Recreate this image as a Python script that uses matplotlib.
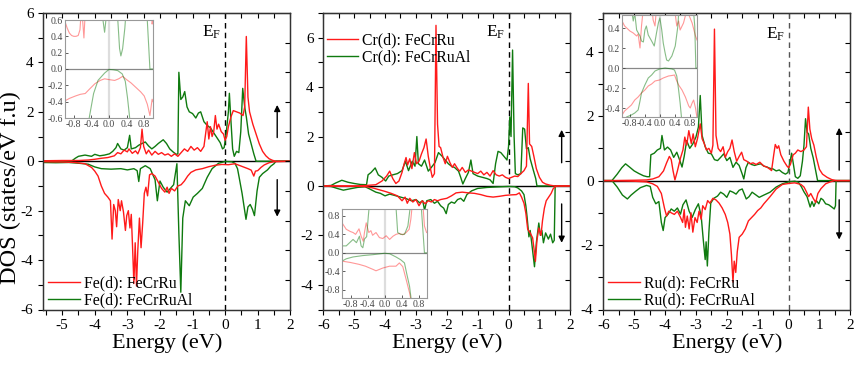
import numpy as np
import matplotlib
matplotlib.use("Agg")
import matplotlib.pyplot as plt

plt.rcParams['font.family'] = ['Liberation Serif', 'DejaVu Serif']
plt.rcParams['mathtext.fontset'] = 'custom'
plt.rcParams['mathtext.rm'] = 'Liberation Serif'
plt.rcParams['mathtext.it'] = 'Liberation Serif'
plt.rcParams['axes.unicode_minus'] = False

RED = '#ff1a1a'
GREEN = '#0f7a0f'

# ---------------- Panel 1 : Fe(d) ----------------
fe_ru_up_x = [-5.6, -5.0, -4.5, -4.2, -4.0, -3.8, -3.6, -3.4, -3.3, -3.2, -3.1, -3.0, -2.95, -2.85, -2.75, -2.68,
              -2.6, -2.55, -2.5, -2.42, -2.35, -2.25, -2.15, -2.05, -1.95, -1.85, -1.75, -1.65, -1.55, -1.45,
              -1.35, -1.25, -1.15, -1.05, -0.95, -0.85, -0.75, -0.65, -0.55, -0.5, -0.45, -0.4, -0.35, -0.3,
              -0.25, -0.2, -0.12, -0.05, 0.0, 0.05, 0.1, 0.18, 0.25, 0.35, 0.45, 0.55, 0.6, 0.65, 0.7, 0.75,
              0.85, 0.95, 1.05, 1.15, 1.25, 1.35, 1.45, 1.55, 2.0]
fe_ru_up_y = [0.02, 0.03, 0.03, 0.05, 0.08, 0.12, 0.15, 0.22, 0.35, 0.3, 0.45, 0.38, 0.5, 0.32, 0.42, 0.3,
              0.55, 1.3, 0.6, 0.3, 0.45, 0.25, 0.4, 0.28, 0.35, 0.25, 0.3, 0.2, 0.3, 0.2,
              0.35, 0.5, 0.4, 0.6, 0.45, 0.55, 0.4, 0.6, 1.6, 0.9, 1.4, 1.0, 1.2, 1.85,
              1.3, 1.5, 1.2, 1.1, 0.85, 1.0, 1.4, 1.8, 2.05, 2.0, 1.95, 1.85, 2.2, 5.05, 2.6, 2.0,
              1.5, 1.1, 0.7, 0.4, 0.22, 0.1, 0.04, 0.0, 0.0]
fe_ru_dn_x = [-5.6, -5.0, -4.6, -4.3, -4.1, -4.0, -3.9, -3.8, -3.7, -3.6, -3.52, -3.47, -3.42, -3.37, -3.33,
              -3.28, -3.22, -3.18, -3.12, -3.06, -3.02, -2.97, -2.92, -2.88, -2.84, -2.8, -2.76, -2.72, -2.68,
              -2.63, -2.58, -2.53, -2.48, -2.43, -2.38, -2.32, -2.25, -2.15, -2.05, -1.95, -1.85, -1.78, -1.72,
              -1.65, -1.55, -1.45, -1.35, -1.25, -1.15, -1.05, -0.9, -0.7, -0.5, -0.3, -0.1, 0.1, 0.3, 0.5,
              0.7, 0.8, 0.88, 0.93, 1.0, 1.1, 1.2, 1.35, 1.5, 2.0]
fe_ru_dn_y = [-0.02, -0.03, -0.05, -0.1, -0.25, -0.4, -0.6, -1.0, -1.3, -1.45, -1.6, -3.15, -1.75, -2.0, -2.65,
              -1.55, -2.0, -1.6, -2.05, -2.8, -2.2, -2.0, -2.7, -2.15, -3.5, -4.95, -3.3, -5.05, -3.6,
              -2.3, -3.5, -2.5, -1.3, -1.05, -1.4, -0.55, -0.5, -0.6, -0.85, -1.1, -1.25, -1.05, -1.3,
              -1.1, -1.2, -1.0, -0.95, -0.8, -0.6, -0.45, -0.35, -0.3, -0.22, -0.16, -0.13, -0.14, -0.1, -0.2,
              -0.3, -0.36, -0.6, -0.4, -0.38, -0.25, -0.15, -0.06, -0.02, 0.0]
fe_al_up_x = [-5.6, -5.0, -4.7, -4.6, -4.5, -4.3, -4.1, -4.0, -3.85, -3.7, -3.55, -3.45, -3.35, -3.3, -3.2,
              -3.1, -3.0, -2.93, -2.88, -2.75, -2.65, -2.55, -2.45, -2.35, -2.25, -2.15, -2.05, -1.9, -1.8,
              -1.7, -1.6, -1.5, -1.45, -1.42, -1.36, -1.3, -1.24, -1.17, -1.1, -1.0, -0.9, -0.82, -0.75,
              -0.65, -0.55, -0.45, -0.35, -0.25, -0.15, -0.08, -0.03, 0.03, 0.1, 0.13, 0.18, 0.23, 0.28,
              0.35, 0.42, 0.48, 0.54, 0.6, 0.65, 0.72, 0.8, 0.88, 0.95, 2.0]
fe_al_up_y = [0.0, 0.0, 0.02, 0.12, 0.2, 0.25, 0.2, 0.28, 0.22, 0.25, 0.3, 0.4, 0.55, 0.72, 0.5,
              0.45, 0.55, 1.05, 0.5, 0.55, 0.65, 0.72, 0.78, 0.62, 0.5, 0.6, 0.72, 0.87, 0.72,
              0.5, 0.38, 0.28, 0.3, 3.6, 2.5, 2.6, 2.82, 2.2, 2.0, 1.93, 1.75, 1.95, 2.0,
              1.6, 1.45, 1.35, 1.15, 0.95, 0.75, 0.5, 0.55, 1.1, 2.0, 2.75, 1.6, 0.5, 0.2,
              0.4, 0.35, 1.2, 2.95, 2.2, 1.8, 1.1, 0.7, 0.3, 0.0, 0.0]
fe_al_dn_x = [-5.6, -5.2, -4.8, -4.5, -4.2, -4.0, -3.8, -3.5, -3.2, -3.0, -2.8, -2.7, -2.65, -2.6, -2.45,
              -2.3, -2.15, -2.08, -2.0, -1.9, -1.78, -1.68, -1.58, -1.48, -1.42, -1.36, -1.3, -1.22, -1.1,
              -0.98, -0.85, -0.7, -0.55, -0.4, -0.2, 0.0, 0.2, 0.3, 0.38, 0.43, 0.52, 0.6, 0.64, 0.7, 0.77,
              0.84, 0.9, 0.98, 1.05, 1.15, 1.3, 1.4, 1.5, 1.56, 2.0]
fe_al_dn_y = [-0.05, -0.06, -0.05, -0.08, -0.12, -0.23, -0.3, -0.32, -0.3, -0.35, -0.3, -0.38, -0.82, -0.3, -0.18,
              -0.3, -0.75, -1.6, -0.8, -1.05, -1.25, -1.1, -0.95, -0.1, -2.9, -5.3, -2.3, -1.6, -1.8,
              -1.45, -1.3, -1.1, -0.65, -0.3, -0.08, -0.01, -0.02, -0.08, -0.3, -0.65, -1.3, -2.0, -2.35, -1.85, -1.75,
              -1.95, -2.2, -1.2, -0.65, -0.5, -0.35, -0.2, -0.1, 0.0, 0.0]

# ---------------- Panel 2 : Cr(d) ----------------
cr_ru_up_x = [-6.0, -5.0, -4.6, -4.3, -4.1, -3.95, -3.85, -3.75, -3.65, -3.55, -3.45, -3.38, -3.32, -3.27, -3.2,
              -3.13, -3.05, -2.98, -2.9, -2.82, -2.74, -2.67, -2.6, -2.53, -2.47, -2.4, -2.35, -2.3, -2.25,
              -2.2, -2.12, -2.05, -1.98, -1.9, -1.82, -1.75, -1.65, -1.58, -1.5, -1.4, -1.3, -1.2, -1.1, -1.0,
              -0.9, -0.8, -0.7, -0.6, -0.5, -0.4, -0.3, -0.2, -0.1, 0.0, 0.1, 0.2, 0.3, 0.4, 0.5, 0.58, 0.64,
              0.68, 0.75, 0.82, 0.9, 1.0, 1.1, 1.2, 1.35, 1.5, 2.0]
cr_ru_up_y = [0.0, 0.0, 0.02, 0.05, 0.2, 0.4, 0.6, 0.3, 0.1, 0.2, 0.55, 0.9, 1.15, 0.85, 1.1,
              0.7, 1.35, 0.9, 1.0, 1.3, 1.55, 1.9, 1.2, 0.7, 0.35, 0.5, 6.5, 2.5, 1.6,
              1.55, 1.15, 0.9, 1.2, 0.95, 0.75, 0.9, 0.7, 0.6, 0.75, 0.55, 0.65, 0.6, 0.55, 0.5,
              0.6, 0.45, 0.55, 0.4, 0.62, 0.45, 0.4, 0.45, 0.35, 0.3, 0.35, 0.4, 0.38, 0.5, 0.62, 0.8, 4.15,
              1.7, 1.6, 1.2, 0.7, 0.35, 0.15, 0.08, 0.03, 0.0, 0.0]
cr_ru_dn_x = [-6.0, -5.0, -4.6, -4.4, -4.2, -4.0, -3.8, -3.6, -3.45, -3.35, -3.28, -3.2, -3.1, -3.0, -2.9,
              -2.8, -2.7, -2.6, -2.5, -2.4, -2.3, -2.2, -2.0, -1.85, -1.7, -1.5, -1.3, -1.1, -0.9, -0.7,
              -0.5, -0.3, -0.1, 0.1, 0.25, 0.35, 0.42, 0.5, 0.56, 0.62, 0.7, 0.78, 0.83, 0.87, 0.92, 0.98,
              1.05, 1.1, 1.16, 1.22, 1.3, 1.38, 1.45, 1.55, 2.0]
cr_ru_dn_y = [0.0, -0.01, -0.03, -0.08, -0.15, -0.22, -0.3, -0.4, -0.6, -0.45, -0.7, -0.5, -0.65, -0.55, -0.8,
              -0.6, -0.72, -0.6, -0.65, -0.55, -0.6, -0.55, -0.5, -0.4, -0.28, -0.25, -0.28, -0.3, -0.35, -0.42,
              -0.45, -0.42, -0.38, -0.36, -0.35, -0.28, -0.45, -0.7, -1.1, -1.75, -1.9, -2.1, -2.6, -3.05, -2.2, -1.7,
              -2.0, -1.4, -0.9, -0.6, -0.45, -0.3, -0.1, 0.0, 0.0]
cr_al_up_x = [-6.0, -5.75, -5.6, -5.4, -5.2, -5.0, -4.8, -4.6, -4.55, -4.45, -4.32, -4.22, -4.1, -3.98, -3.88,
              -3.75, -3.6, -3.45, -3.34, -3.24, -3.12, -3.03, -2.97, -2.92, -2.82, -2.72, -2.6, -2.5, -2.38,
              -2.27, -2.15, -2.05, -1.95, -1.85, -1.75, -1.62, -1.55, -1.48, -1.4, -1.3, -1.22, -1.15, -1.0,
              -0.85, -0.7, -0.6, -0.5, -0.42, -0.34, -0.25, -0.15, -0.05, 0.0, 0.04, 0.08, 0.13, 0.18, 0.22,
              0.3, 0.4, 0.46, 0.52, 0.58, 0.64, 0.7, 0.8, 0.88, 0.92, 2.0]
cr_al_up_y = [0.0, 0.02, 0.12, 0.23, 0.15, 0.1, 0.06, 0.05, 0.45, 0.55, 0.73, 0.45, 0.35, 0.2, 0.4,
              0.45, 0.5, 0.62, 1.0, 0.62, 1.0, 0.8, 2.0, 0.9, 0.8, 1.05, 0.6, 0.75, 0.95,
              1.35, 1.2, 1.05, 0.9, 0.8, 0.75, 0.6, 0.35, 0.08, 0.3, 0.55, 1.05, 0.5, 0.4,
              0.35, 0.3, 0.25, 0.1, 0.9, 1.4, 1.35, 1.2, 1.05, 1.6, 2.8, 2.0, 5.5, 2.0, 0.5,
              0.45, 0.5, 2.35, 2.3, 1.5, 1.55, 1.1, 0.65, 0.3, 0.0, 0.0]
cr_al_dn_x = [-6.0, -5.75, -5.55, -5.35, -5.15, -4.9, -4.65, -4.5, -4.3, -4.15, -4.0, -3.85, -3.7, -3.5, -3.3,
              -3.15, -3.0, -2.88, -2.78, -2.72, -2.65, -2.52, -2.4, -2.3, -2.2, -2.1, -2.02, -1.95, -1.85,
              -1.75, -1.65, -1.55, -1.45, -1.35, -1.2, -1.0, -0.7, -0.4, 0.0, 0.2, 0.3, 0.42, 0.5, 0.56, 0.6,
              0.66, 0.7, 0.75, 0.84, 0.9, 0.98, 1.03, 1.08, 1.13, 1.2, 1.29, 1.36, 1.43, 1.48, 1.51, 2.0]
cr_al_dn_y = [0.0, -0.02, -0.1, -0.17, -0.12, -0.06, -0.03, -0.12, -0.25, -0.3, -0.4, -0.33, -0.38, -0.45, -0.52,
              -0.6, -0.55, -0.68, -0.6, -0.98, -0.6, -0.55, -0.7, -0.62, -0.8, -0.9, -1.12, -0.75, -0.65,
              -0.7, -0.55, -0.5, -0.62, -0.35, -0.2, -0.1, -0.06, -0.04, -0.02, -0.03, -0.08, -0.2, -0.35, -0.8, -1.25,
              -2.06, -1.8, -2.3, -3.27, -2.3, -1.5, -2.0, -1.8, -2.3, -1.9, -2.15, -1.95, -2.3, -2.2, 0.0, 0.0]

# ---------------- Panel 3 : Ru(d) ----------------
ru_ru_up_x = [-6.0, -5.8, -5.0, -4.6, -4.4, -4.2, -4.05, -3.95, -3.86, -3.8, -3.74, -3.68, -3.6, -3.5, -3.42,
              -3.36, -3.3, -3.23, -3.15, -3.09, -3.02, -2.95, -2.86, -2.8, -2.73, -2.66, -2.58, -2.5, -2.45,
              -2.4, -2.35, -2.28, -2.2, -2.12, -2.05, -1.97, -1.9, -1.83, -1.76, -1.68, -1.6, -1.52, -1.45,
              -1.35, -1.25, -1.15, -1.05, -0.93, -0.8, -0.7, -0.6, -0.55, -0.48, -0.43, -0.37, -0.32, -0.25,
              -0.15, -0.05, 0.0, 0.06, 0.15, 0.22, 0.3, 0.4, 0.5, 0.58, 0.64, 0.69, 0.75, 0.82, 0.9, 1.0,
              1.1, 1.25, 1.4, 1.55, 2.0]
ru_ru_up_y = [0.0, 0.0, 0.01, 0.02, 0.05, 0.12, 0.3, 0.55, 0.75, 0.65, 0.3, 0.02, 0.3, 0.7, 0.95,
              1.35, 1.1, 1.55, 1.15, 1.45, 1.05, 1.3, 1.76, 1.3, 1.15, 0.95, 1.0, 0.85, 1.1,
              4.7, 1.4, 1.0, 0.9, 1.05, 0.72, 0.9, 1.0, 1.26, 0.9, 0.6, 0.75, 0.88, 0.65,
              0.6, 0.52, 0.55, 0.5, 0.57, 0.45, 0.42, 0.35, 0.31, 0.8, 1.12, 1.0, 1.08, 0.8,
              0.6, 0.45, 0.4, 0.5, 0.8, 0.85, 0.95, 0.9, 0.95, 1.05, 2.28, 1.6, 1.3, 1.1, 0.72, 0.35,
              0.2, 0.1, 0.03, 0.0, 0.0]
ru_ru_dn_x = [-6.0, -5.8, -5.0, -4.6, -4.4, -4.25, -4.12, -4.02, -3.95, -3.88, -3.8, -3.7, -3.6, -3.5, -3.43,
              -3.38, -3.34, -3.28, -3.22, -3.16, -3.1, -3.03, -2.96, -2.9, -2.83, -2.78, -2.7, -2.62, -2.55,
              -2.45, -2.35, -2.25, -2.15, -2.05, -1.97, -1.9, -1.85, -1.8, -1.76, -1.71, -1.66, -1.6, -1.5,
              -1.4, -1.3, -1.2, -1.1, -1.0, -0.9, -0.8, -0.6, -0.4, -0.2, 0.0, 0.2, 0.4, 0.5, 0.58, 0.65,
              0.72, 0.8, 0.88, 0.95, 1.05, 1.2, 1.35, 1.5, 2.0]
ru_ru_dn_y = [0.0, 0.0, -0.02, -0.04, -0.1, -0.18, -0.4, -0.85, -1.1, -0.95, -1.0, -1.05, -0.95, -1.14, -1.3,
              -0.9, -1.45, -1.1, -1.5, -1.0, -1.6, -1.15, -1.3, -0.95, -1.2, -0.78, -0.9, -0.62, -0.7,
              -0.55, -0.6, -0.7, -0.85, -1.05, -1.3, -1.66, -2.3, -3.15, -2.5, -2.85, -2.2, -1.76, -1.66,
              -1.5, -1.25, -1.15, -1.05, -0.93, -0.85, -0.72, -0.5, -0.26, -0.12, -0.09, -0.07, -0.12, -0.2, -0.35, -0.5,
              -0.4, -0.55, -0.68, -0.4, -0.25, -0.1, -0.04, 0.0, 0.0]
ru_al_up_x = [-6.0, -5.72, -5.55, -5.4, -5.28, -5.15, -5.0, -4.85, -4.7, -4.58, -4.5, -4.46, -4.35, -4.25, -4.15,
              -4.1, -4.02, -3.92, -3.82, -3.72, -3.62, -3.52, -3.45, -3.38, -3.3, -3.2, -3.1, -3.0, -2.92,
              -2.86, -2.8, -2.7, -2.6, -2.5, -2.4, -2.3, -2.2, -2.1, -2.0, -1.9, -1.8, -1.7, -1.6, -1.5,
              -1.45, -1.38, -1.3, -1.2, -1.1, -1.0, -0.9, -0.8, -0.7, -0.6, -0.5, -0.4, -0.3, -0.2, -0.1,
              -0.02, 0.05, 0.1, 0.15, 0.22, 0.3, 0.38, 0.45, 0.5, 0.55, 0.6, 0.65, 0.72, 0.8, 0.88, 0.94, 2.0]
ru_al_up_y = [0.0, 0.0, 0.2, 0.4, 0.52, 0.42, 0.3, 0.22, 0.15, 0.12, 0.12, 0.8, 0.85, 0.95, 1.0,
              1.4, 0.95, 1.04, 0.95, 0.72, 0.88, 0.62, 0.42, 0.75, 1.24, 1.0, 1.14, 1.35, 1.66,
              2.64, 1.4, 1.05, 0.85, 0.83, 0.65, 0.62, 0.72, 0.83, 0.62, 0.72, 0.41, 0.57, 0.47, 0.2,
              0.05, 0.4, 0.57, 0.5, 0.47, 0.5, 0.52, 0.45, 0.42, 0.38, 0.36, 0.3, 0.33, 0.25, 0.2,
              0.25, 0.6, 0.85, 0.55, 0.12, 0.07, 0.15, 0.6, 1.1, 1.92, 1.5, 1.45, 1.0, 0.7, 0.3, 0.0, 0.0]
ru_al_dn_x = [-6.0, -5.72, -5.55, -5.38, -5.22, -5.1, -4.95, -4.8, -4.6, -4.48, -4.4, -4.3, -4.2, -4.12, -4.06,
              -4.0, -3.9, -3.8, -3.7, -3.6, -3.5, -3.42, -3.32, -3.22, -3.12, -3.02, -2.92, -2.83, -2.76,
              -2.7, -2.67, -2.63, -2.58, -2.52, -2.42, -2.3, -2.2, -2.1, -2.0, -1.9, -1.8, -1.7, -1.6, -1.5,
              -1.42, -1.37, -1.28, -1.18, -1.05, -0.95, -0.8, -0.6, -0.4, -0.2, 0.0, 0.2, 0.32, 0.42, 0.5,
              0.6, 0.7, 0.76, 0.82, 0.9, 0.98, 1.05, 1.12, 1.2, 1.3, 1.4, 1.48, 1.52, 1.54, 2.0]
ru_al_dn_y = [0.0, 0.0, -0.2, -0.45, -0.57, -0.45, -0.33, -0.22, -0.15, -0.18, -0.52, -0.72, -0.65, -1.3, -1.55,
              -1.15, -1.04, -0.88, -0.95, -0.85, -1.04, -0.75, -0.6, -0.95, -1.14, -0.9, -0.72, -1.1, -1.86,
              -2.45, -1.9, -2.65, -1.6, -0.7, -0.55, -0.48, -0.36, -0.42, -0.52, -0.32, -0.36, -0.42, -0.3, -0.26,
              -0.45, -0.57, -0.5, -0.36, -0.45, -0.52, -0.45, -0.36, -0.2, -0.1, -0.04, -0.02, -0.05, -0.2, -0.35,
              -0.5, -0.82, -0.65, -0.8, -0.62, -0.72, -0.55, -0.6, -0.72, -0.75, -0.82, -0.88, -0.78, 0.0, 0.0]

# ---------------- Insets (zoom near E_F) ----------------
in1_ru_up_x = [-1.0, -0.95, -0.9, -0.85, -0.8, -0.75, -0.7, -0.66, -0.62, -0.6, -0.57, -0.54, -0.5, -0.4, 0.9, 0.95, 0.98, 1.0]
in1_ru_up_y = [0.58, 0.5, 0.44, 0.41, 0.4, 0.4, 0.41, 0.48, 0.8, 0.6, 0.38, 0.7, 0.9, 1.0, 1.0, 0.9, 0.55, 0.6]
in1_al_up_x = [-0.3, -0.15, -0.1, -0.06, 0.0, 0.15, 0.2, 0.24, 0.27, 0.31, 0.36, 0.4, 0.8, 0.87, 0.9, 0.93, 1.0]
in1_al_up_y = [1.0, 0.65, 0.45, 0.65, 1.0, 1.0, 0.6, 0.25, 0.16, 0.25, 0.5, 0.8, 0.9, 0.6, 0.3, 0.0, 0.0]
in1_ru_dn_x = [-1.0, -0.9, -0.76, -0.65, -0.54, -0.45, -0.32, -0.2, -0.1, 0.0, 0.13, 0.22, 0.31, 0.4, 0.5, 0.6, 0.72, 0.8, 0.87, 0.93, 0.98, 1.0]
in1_ru_dn_y = [-0.39, -0.36, -0.33, -0.31, -0.3, -0.25, -0.18, -0.14, -0.12, -0.13, -0.14, -0.12, -0.09, -0.13, -0.17, -0.22, -0.28, -0.33, -0.43, -0.57, -0.37, -0.4]
in1_al_dn_x = [-0.5, -0.45, -0.35, -0.25, -0.1, 0.0, 0.1, 0.2, 0.3, 0.37, 0.42, 0.47, 0.5]
in1_al_dn_y = [-0.75, -0.6, -0.3, -0.14, -0.05, -0.005, -0.01, -0.02, -0.06, -0.15, -0.35, -0.6, -0.8]

in2_ru_up_x = [-1.0, -0.9, -0.8, -0.74, -0.68, -0.6, -0.55, -0.5, -0.47, -0.43, -0.37, -0.32, -0.28, -0.2, -0.12,
               -0.04, 0.04, 0.12, 0.2, 0.27, 0.35, 0.43, 0.51, 0.58, 0.62, 0.66, 0.9, 0.94, 0.99]
in2_ru_up_y = [0.65, 0.51, 0.46, 0.44, 0.4, 0.52, 0.36, 0.25, 0.45, 0.65, 0.44, 0.48, 0.38, 0.44, 0.33,
               0.31, 0.37, 0.29, 0.36, 0.4, 0.42, 0.39, 0.44, 0.51, 0.73, 1.1, 1.1, 0.58, 0.44]
in2_al_up_x = [-1.0, -0.9, -0.82, -0.74, -0.66, -0.59, -0.55, -0.51, -0.47, -0.42, -0.38, -0.35, -0.3, 0.2, 0.27,
               0.31, 0.38, 0.47, 0.55, 0.62, 0.7, 0.85, 0.88, 0.94, 1.0]
in2_al_up_y = [0.15, 0.15, 0.22, 0.29, 0.22, 0.36, 0.15, 0.11, 0.3, 0.35, 0.8, 1.1, 1.2, 1.2, 1.0,
               0.44, 0.4, 0.4, 0.58, 1.1, 1.2, 1.2, 0.8, 0.0, 0.0]
in2_ru_dn_x = [-1.0, -0.8, -0.6, -0.45, -0.27, -0.2, -0.04, 0.12, 0.27, 0.35, 0.43, 0.51, 0.59, 0.64]
in2_ru_dn_y = [-0.18, -0.21, -0.25, -0.29, -0.36, -0.39, -0.33, -0.29, -0.29, -0.22, -0.3, -0.58, -0.87, -1.1]
in2_al_dn_x = [-1.0, -0.9, -0.74, -0.51, -0.27, 0.0, 0.12, 0.27, 0.38, 0.47, 0.52, 0.59, 0.64]
in2_al_dn_y = [-0.18, -0.13, -0.09, -0.06, -0.04, -0.01, -0.02, -0.09, -0.15, -0.22, -0.44, -0.73, -1.1]

in3_ru_up_x = [-1.0, -0.93, -0.79, -0.7, -0.61, -0.57, -0.52, -0.48, -0.43, -0.2, -0.17, -0.12, -0.08, 0.4, 0.46,
               0.51, 0.55, 0.64, 0.73, 0.87, 0.96, 1.0]
in3_ru_up_y = [0.47, 0.42, 0.37, 0.35, 0.32, 0.34, 0.2, 0.42, 0.6, 0.6, 0.48, 0.42, 0.6, 0.6, 0.42,
               0.47, 0.38, 0.45, 0.58, 0.45, 0.32, 0.28]
in3_al_up_x = [-1.0, -0.75, -0.7, -0.66, -0.61, -0.52, -0.48, -0.43, -0.39, -0.35, -0.3, -0.21, -0.14, -0.08, -0.03,
               0.01, 0.06, 0.1, 0.15, 0.19, 0.24, 0.33, 0.42, 0.49, 0.52, 0.9, 0.94, 0.97, 1.0]
in3_al_up_y = [0.7, 0.6, 0.47, 0.55, 0.38, 0.32, 0.27, 0.26, 0.38, 0.42, 0.33, 0.27, 0.22, 0.35, 0.45,
               0.5, 0.38, 0.25, 0.15, 0.08, 0.07, 0.12, 0.22, 0.42, 0.6, 0.6, 0.42, 0.0, 0.0]
in3_ru_dn_x = [-1.0, -0.93, -0.84, -0.75, -0.66, -0.57, -0.48, -0.39, -0.3, -0.21, -0.12, 0.0, 0.1, 0.24, 0.33,
               0.4, 0.46, 0.51, 0.6, 0.69, 0.78, 0.82, 0.87, 0.91, 0.96, 1.0]
in3_ru_dn_y = [-0.47, -0.43, -0.4, -0.37, -0.32, -0.29, -0.25, -0.22, -0.18, -0.16, -0.13, -0.12, -0.1, -0.08, -0.075,
               -0.07, -0.13, -0.17, -0.22, -0.29, -0.38, -0.4, -0.35, -0.32, -0.4, -0.5]
in3_al_dn_x = [-1.0, -0.88, -0.75, -0.66, -0.57, -0.52, -0.48, -0.39, -0.3, -0.21, -0.12, 0.0, 0.15, 0.33, 0.4,
               0.46, 0.51, 0.55, 0.6]
in3_al_dn_y = [-0.6, -0.49, -0.47, -0.45, -0.42, -0.33, -0.25, -0.17, -0.1, -0.07, -0.03, -0.01, 0.0, -0.01, -0.02,
               -0.08, -0.22, -0.35, -0.55]

# ---------------- Labels / layout ----------------
legend_labels = [["Fe(d): FeCrRu", "Fe(d): FeCrRuAl"],
                 ["Cr(d): FeCrRu", "Cr(d): FeCrRuAl"],
                 ["Ru(d): FeCrRu", "Ru(d): FeCrRuAl"]]
xlims = [(-5.58, 2), (-6, 2), (-6, 2)]
ylims = [(-6, 6), (-5, 7), (-4, 5.2)]
xticks = [np.arange(-5, 3, 1), np.arange(-6, 3, 1), np.arange(-6, 3, 1)]
yticks = [np.arange(-6, 7, 2), np.arange(-4, 7, 2), np.arange(-4, 5, 2)]
ef_pos = [(-0.12, 5.2), (-0.12, 6.2), (-0.12, 4.55)]

panels = [
    (fe_ru_up_x, fe_ru_up_y, fe_ru_dn_x, fe_ru_dn_y, fe_al_up_x, fe_al_up_y, fe_al_dn_x, fe_al_dn_y),
    (cr_ru_up_x, cr_ru_up_y, cr_ru_dn_x, cr_ru_dn_y, cr_al_up_x, cr_al_up_y, cr_al_dn_x, cr_al_dn_y),
    (ru_ru_up_x, ru_ru_up_y, ru_ru_dn_x, ru_ru_dn_y, ru_al_up_x, ru_al_up_y, ru_al_dn_x, ru_al_dn_y),
]
insets = [
    (in1_ru_up_x, in1_ru_up_y, in1_ru_dn_x, in1_ru_dn_y, in1_al_up_x, in1_al_up_y, in1_al_dn_x, in1_al_dn_y),
    (in2_ru_up_x, in2_ru_up_y, in2_ru_dn_x, in2_ru_dn_y, in2_al_up_x, in2_al_up_y, in2_al_dn_x, in2_al_dn_y),
    (in3_ru_up_x, in3_ru_up_y, in3_ru_dn_x, in3_ru_dn_y, in3_al_up_x, in3_al_up_y, in3_al_dn_x, in3_al_dn_y),
]
inset_ylims = [(-0.6, 0.6), (-0.98, 0.95), (-0.49, 0.53)]
inset_yticks = [[-0.6, -0.4, -0.2, 0.0, 0.2, 0.4, 0.6], [-0.8, -0.4, 0.0, 0.4, 0.8], [-0.4, -0.2, 0.0, 0.2, 0.4]]

W, H = 863, 365
fig = plt.figure(figsize=(W / 100, H / 100), dpi=100)
bottom = 1 - 309.5 / H
height = (309.5 - 13) / H
lefts = [43.3 / W, 323.3 / W, 603.3 / W]
width = 247 / W

inset_rects = [[65 / W, 1 - 118 / H, 88 / W, 98 / H],
               [342 / W, 1 - 298 / H, 85 / W, 89 / H],
               [622 / W, 1 - 117 / H, 75 / W, 102 / H]]
legend_anchor = [((0.02, 0.005), 'lower left'), ((0.015, 0.935), 'upper left'), ((0.02, 0.005), 'lower left')]
arrow_x = [0.947, 0.965, 0.955]
arrow_up = [(0.58, 0.69), (0.495, 0.606), (0.47, 0.613)]
arrow_dn = [(0.438, 0.313), (0.356, 0.225), (0.37, 0.236)]

for i in range(3):
    ax = fig.add_axes([lefts[i], bottom, width, height])
    rux, ruy, rdx, rdy, aux, auy, adx, ady = panels[i]
    ax.axhline(0, color='black', lw=1.0, zorder=1)
    ax.axvline(0, color='black' if i < 2 else '#555555', lw=1.0, ls=(0, (4, 3)), zorder=1)
    l1, = ax.plot(rux, ruy, color=RED, lw=1.0, label=legend_labels[i][0], zorder=3)
    ax.plot(rdx, rdy, color=RED, lw=1.0, zorder=3)
    l2, = ax.plot(aux, auy, color=GREEN, lw=1.0, label=legend_labels[i][1], zorder=2)
    ax.plot(adx, ady, color=GREEN, lw=1.0, zorder=2)
    ax.set_xlim(*xlims[i])
    ax.set_ylim(*ylims[i])
    ax.set_xticks(xticks[i])
    ax.set_yticks(yticks[i])
    ax.set_xticks(np.arange(np.ceil(xlims[i][0] * 2) / 2, 2.01, 0.5), minor=True)
    ax.set_yticks(np.arange(ylims[i][0], ylims[i][1] + 0.01, 1), minor=True)
    ax.tick_params(axis='both', which='both', direction='out', length=3.5, width=0.8, labelsize=11,
                   top=False, right=False)
    secx = ax.secondary_xaxis('top')
    secx.set_xticks(np.arange(np.ceil(xlims[i][0] * 2) / 2, 2.01, 0.5))
    secx.tick_params(direction='in', length=3.5, width=0.8, labeltop=False)
    axr = ax.twinx()
    axr.set_ylim(0, 1)
    axr.set_yticks(np.arange(0.1, 0.95, 0.1))
    axr.tick_params(direction='in', length=3.5, width=0.8, labelright=False)
    for a in (ax, axr):
        for s in a.spines.values():
            s.set_color('#333333')
            s.set_linewidth(0.9)
    secx.spines['top'].set_color('#333333')
    ax.set_xlabel('Energy (eV)', fontsize=16, labelpad=1)
    if i == 0:
        ax.set_ylabel('DOS (states/eV f.u)', fontsize=17.5)
        ax.yaxis.set_label_coords(-0.092, 0.41)
    ax.text(ef_pos[i][0], ef_pos[i][1], r'E$_{\rm F}$', fontsize=12.5, ha='right', va='center')
    anc, loc = legend_anchor[i]
    ax.legend(handles=[l1, l2], loc=loc, bbox_to_anchor=anc, frameon=False, fontsize=11.3,
              handlelength=2.0, handletextpad=0.25, labelspacing=0.05, borderaxespad=0, borderpad=0)
    ax.annotate('', xy=(arrow_x[i], arrow_up[i][1]), xytext=(arrow_x[i], arrow_up[i][0]),
                xycoords='axes fraction', arrowprops=dict(arrowstyle='-|>', color='black', lw=1.0,
                                                           mutation_scale=9, shrinkA=0, shrinkB=0))
    ax.annotate('', xy=(arrow_x[i], arrow_dn[i][1]), xytext=(arrow_x[i], arrow_dn[i][0]),
                xycoords='axes fraction', arrowprops=dict(arrowstyle='-|>', color='black', lw=1.0,
                                                           mutation_scale=9, shrinkA=0, shrinkB=0))

    # inset
    axi = fig.add_axes(inset_rects[i])
    axi.set_facecolor('white')
    ix = insets[i]
    axi.axhline(0, color='#888888', lw=0.9, zorder=1)
    axi.axvline(0, color='#dddddd', lw=1.6, zorder=0)
    axi.plot(ix[0], ix[1], color=RED, lw=0.8, alpha=0.45)
    axi.plot(ix[2], ix[3], color=RED, lw=0.8, alpha=0.45)
    axi.plot(ix[4], ix[5], color=GREEN, lw=0.8, alpha=0.5)
    axi.plot(ix[6], ix[7], color=GREEN, lw=0.8, alpha=0.5)
    axi.set_xlim(-1.0, 1.0)
    axi.set_ylim(*inset_ylims[i])
    axi.set_xticks([-0.8, -0.4, 0.0, 0.4, 0.8])
    axi.set_xticklabels(['-0.8', '-0.4', '0.0', '0.4', '0.8'])
    axi.set_yticks(inset_yticks[i])
    axi.set_yticklabels(['%.1f' % v for v in inset_yticks[i]])
    axi.tick_params(direction='in', length=2, width=0.6, labelsize=7, pad=1.5, colors='#444444')
    for s in axi.spines.values():
        s.set_color('#999999')
        s.set_linewidth(0.8)

fig.savefig('out.png', dpi=100)
